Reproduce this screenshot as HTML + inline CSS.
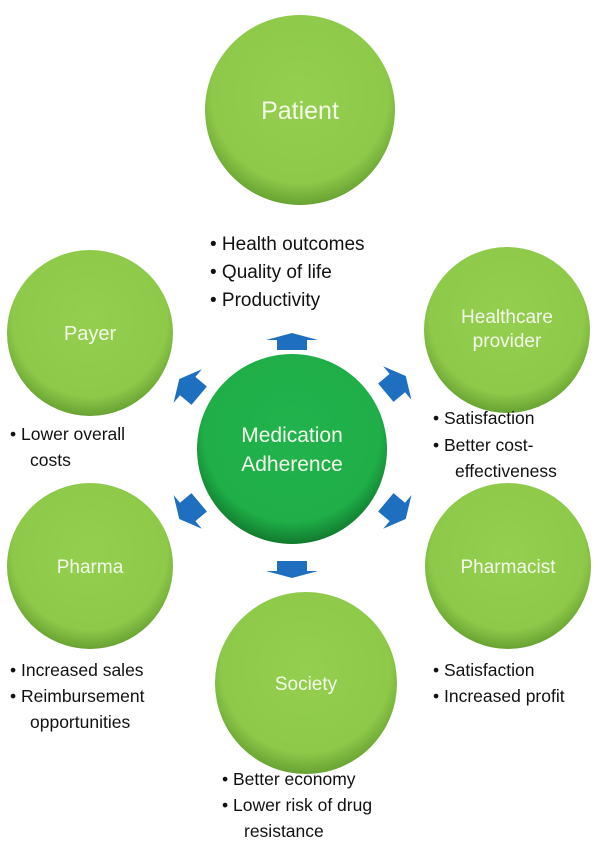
<!DOCTYPE html>
<html><head><meta charset="utf-8"><style>
html,body{margin:0;padding:0;background:#fff;}
svg{display:block;font-family:"Liberation Sans",sans-serif;}
.lbl{fill:#f4f9ea;text-anchor:middle;}
.b{fill:#111;font-size:17.5px;}
</style></head><body>
<svg width="600" height="845" viewBox="0 0 600 845" xmlns="http://www.w3.org/2000/svg">
<defs>
<radialGradient id="g" cx="50%" cy="42%" r="58%">
<stop offset="0" stop-color="#94cf50"/><stop offset="0.8" stop-color="#8ec94a"/><stop offset="1" stop-color="#68a232"/>
</radialGradient>
<radialGradient id="c" cx="50%" cy="42%" r="58%">
<stop offset="0" stop-color="#22b34e"/><stop offset="0.8" stop-color="#1fae48"/><stop offset="1" stop-color="#127a2e"/>
</radialGradient>
<path id="ar" d="M0,-8 L26,-1 L15,-1 L15,9 L-15,9 L-15,-1 L-26,-1 Z" fill="#1f6fc1"/>
<path id="ad" d="M0,-14 L22,-3 L12,-3 L12,12 L-12,12 L-12,-3 L-22,-3 Z" fill="#1f6fc1"/>
</defs>
<circle cx="300" cy="110" r="95" fill="url(#g)"/>
<circle cx="90" cy="333" r="83" fill="url(#g)"/>
<circle cx="507" cy="330" r="83" fill="url(#g)"/>
<circle cx="90" cy="566" r="83" fill="url(#g)"/>
<circle cx="508" cy="566" r="83" fill="url(#g)"/>
<circle cx="306" cy="683" r="91" fill="url(#g)"/>
<circle cx="292" cy="449" r="95" fill="url(#c)"/>

<use href="#ar" transform="translate(292,341)"/>
<use href="#ar" transform="translate(292,570) rotate(180)"/>
<use href="#ad" transform="translate(190,388) rotate(-50)"/>
<use href="#ad" transform="translate(395,385) rotate(50)"/>
<use href="#ad" transform="translate(190,510) rotate(230)"/>
<use href="#ad" transform="translate(395,510) rotate(130)"/>

<text class="lbl" x="300" y="119" font-size="25">Patient</text>
<text class="lbl" x="90" y="340" font-size="20">Payer</text>
<text class="lbl" x="507" y="323" font-size="19">Healthcare</text>
<text class="lbl" x="507" y="347" font-size="19">provider</text>
<text class="lbl" x="292" y="442" font-size="21">Medication</text>
<text class="lbl" x="292" y="471" font-size="21">Adherence</text>
<text class="lbl" x="90" y="573" font-size="19">Pharma</text>
<text class="lbl" x="508" y="573" font-size="19">Pharmacist</text>
<text class="lbl" x="306" y="690" font-size="19">Society</text>

<g class="b">
<text x="210" y="250" font-size="19">•  Health outcomes</text>
<text x="210" y="278" font-size="19">•  Quality of life</text>
<text x="210" y="306" font-size="19">•  Productivity</text>
<text x="10" y="440">•  Lower overall</text>
<text x="30" y="466">costs</text>
<text x="433" y="424">•  Satisfaction</text>
<text x="433" y="451">•  Better cost-</text>
<text x="455" y="477">effectiveness</text>
<text x="10" y="676">•  Increased sales</text>
<text x="10" y="702">•  Reimbursement</text>
<text x="30" y="728">opportunities</text>
<text x="433" y="676">•  Satisfaction</text>
<text x="433" y="702">•  Increased profit</text>
<text x="222" y="785">•  Better economy</text>
<text x="222" y="811">•  Lower risk of drug</text>
<text x="244" y="837">resistance</text>
</g>
</svg>
</body></html>
